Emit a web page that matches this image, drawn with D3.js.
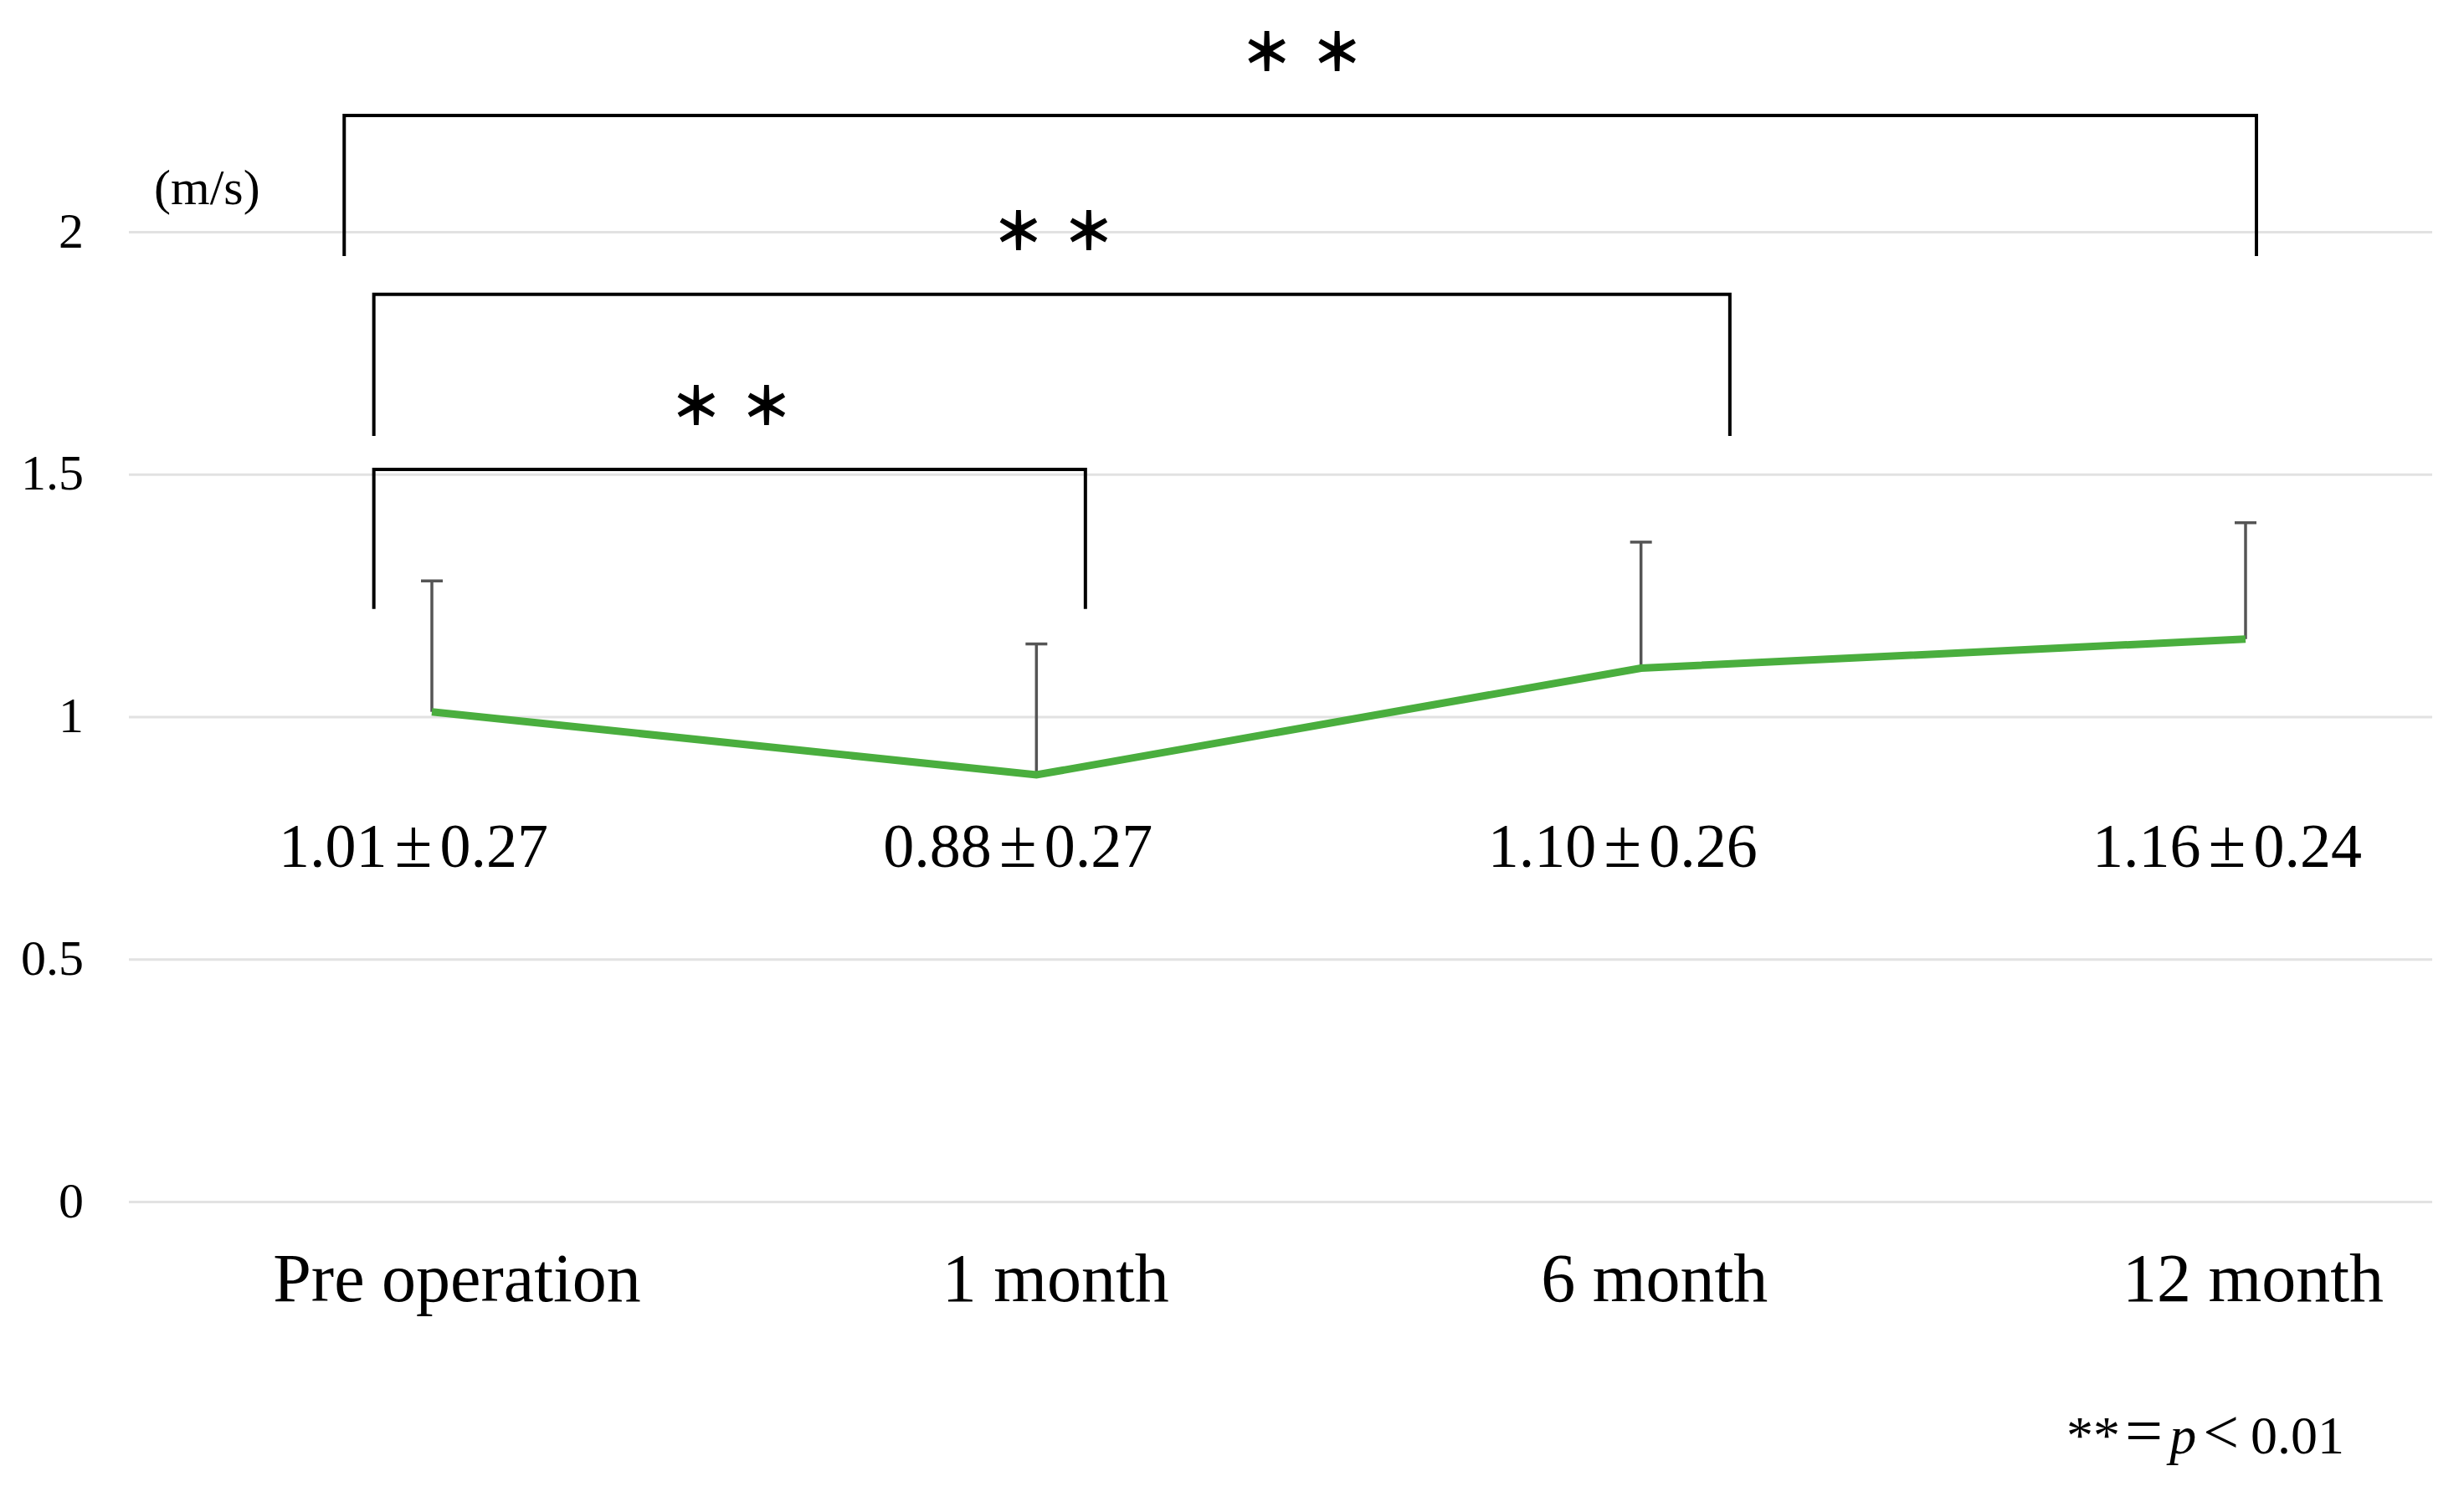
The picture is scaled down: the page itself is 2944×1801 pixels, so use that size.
<!DOCTYPE html>
<html><head><meta charset="utf-8">
<script src="https://cdn.jsdelivr.net/npm/d3@7"></script>
<style>html,body{margin:0;padding:0;background:#fff;} svg{display:block;}</style>
</head><body>
<script>
// ---- data ----
const categories = ["Pre operation", "1 month", "6 month", "12 month"];
const means = [1.01, 0.88, 1.10, 1.16];
const sds = [0.27, 0.27, 0.26, 0.24];
const valueLabels = ["1.01\u00B10.27", "0.88\u00B10.27", "1.10\u00B10.26", "1.16\u00B10.24"];
const yTicks = [0, 0.5, 1, 1.5, 2];
const yTickLabels = ["0", "0.5", "1", "1.5", "2"];
const unitLabel = "(m/s)";
// significance brackets: [from index, to index] in category-index units, top & bottom in value units
const bracketFrom = [-0.145, -0.096, -0.096];
const bracketTo = [3.018, 2.147, 1.081];
const bracketTop = [2.24, 1.871, 1.51];
const bracketBottom = [1.95, 1.579, 1.222];
const bracketLabel = ["\uFF0A\uFF0A", "\uFF0A\uFF0A", "\uFF0A\uFF0A"];

const W = 2944, H = 1801;
const svg = d3.select("body").append("svg").attr("width", W).attr("height", H)
  .style("font-family", "'Liberation Serif','Times New Roman',serif");

const plotLeft = 154, plotRight = 2906;
const x = d3.scalePoint().domain(categories).range([516, 2683]);
const xLabel = d3.scalePoint().domain(categories).range([546, 2692]);
const xi = d3.scaleLinear().domain([0, categories.length - 1]).range([516, 2683]);
const y = d3.scaleLinear().domain([0, 2]).range([1436, 277]);

// gridlines + y labels
const yAxis = d3.axisLeft(y).tickValues(yTicks)
  .tickFormat((d, i) => yTickLabels[i])
  .tickSize(-(plotRight - plotLeft)).tickPadding(54);
const ga = svg.append("g").attr("transform", `translate(${plotLeft},0)`).call(yAxis);
ga.select(".domain").remove();
ga.selectAll(".tick line").attr("stroke", "#e2e2e2").attr("stroke-width", 3);
ga.selectAll(".tick text").attr("fill", "#000").style("font-size", "60px")
  .style("font-family", "'Liberation Serif','Times New Roman',serif").attr("dy", "0.3em");

svg.append("text").attr("x", 184).attr("y", 244).style("font-size", "60px").text(unitLabel);

// error bars
const eb = svg.append("g").attr("stroke", "#555").attr("stroke-width", 3.5);
categories.forEach((c, i) => {
  eb.append("line").attr("x1", x(c)).attr("x2", x(c)).attr("y1", y(means[i])).attr("y2", y(means[i] + sds[i]));
  eb.append("line").attr("x1", x(c) - 13).attr("x2", x(c) + 13).attr("y1", y(means[i] + sds[i])).attr("y2", y(means[i] + sds[i]));
});

// line
const line = d3.line().x((d, i) => x(categories[i])).y(d => y(d));
svg.append("path").datum(means).attr("d", line).attr("fill", "none")
  .attr("stroke", "#4aae3e").attr("stroke-width", 9).attr("stroke-linejoin", "miter");

// value labels
const vl = svg.append("g").selectAll("text").data(valueLabels).join("text")
  .attr("x", (d, i) => x(categories[i]) - 22).attr("y", 1036)
  .attr("text-anchor", "middle").style("font-size", "74px");
vl.append("tspan").text(d => d.split("\u00B1")[0]);
vl.append("tspan").attr("dx", 9).style("font-size", "82px").text("\u00B1");
vl.append("tspan").attr("dx", 9).text(d => d.split("\u00B1")[1]);

// category labels
svg.append("g").selectAll("text").data(categories).join("text")
  .attr("x", d => xLabel(d)).attr("y", 1555)
  .attr("text-anchor", "middle").style("font-size", "82px")
  .text(d => d);

// brackets
const bg = svg.append("g");
bracketFrom.forEach((f, i) => {
  const x1 = xi(f), x2 = xi(bracketTo[i]);
  bg.append("path")
    .attr("d", `M${x1},${y(bracketBottom[i])}V${y(bracketTop[i])}H${x2}V${y(bracketBottom[i])}`)
    .attr("fill", "none").attr("stroke", "#000").attr("stroke-width", 4);
  bg.append("text").attr("x", (x1 + x2) / 2 + 13).attr("y", y(bracketTop[i]) - 80)
    .attr("text-anchor", "middle").attr("dominant-baseline", "central")
    .style("font-family", "'Noto Sans CJK JP',sans-serif").style("font-weight", "900")
    .style("font-size", "62px").style("letter-spacing", "22px")
    .text(bracketLabel[i]);
});

// footnote
const fn = svg.append("text").attr("x", 2469).attr("y", 1737).style("font-size", "64px");
fn.append("tspan").text("**");
fn.append("tspan").attr("dx", 6).style("font-size", "80px").text("=");
fn.append("tspan").attr("dx", 8).style("font-style", "italic").text("p");
fn.append("tspan").attr("dx", 8).style("font-size", "76px").text("<");
fn.append("tspan").attr("dx", 14).text("0.01");
</script>
</body></html>
